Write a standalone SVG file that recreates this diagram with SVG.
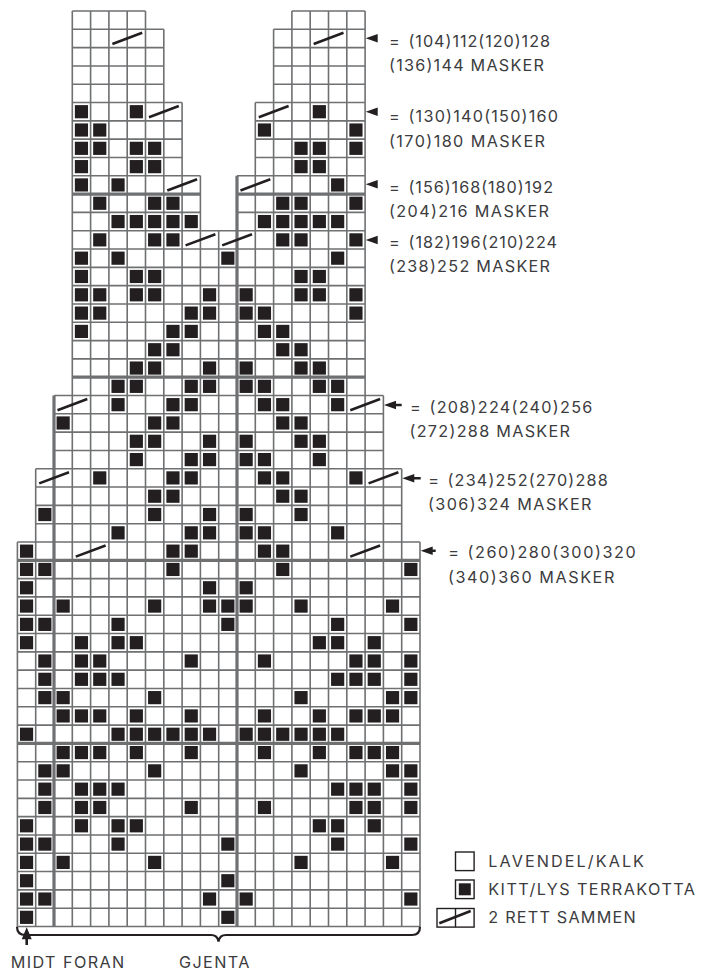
<svg xmlns="http://www.w3.org/2000/svg" width="702" height="972" viewBox="0 0 702 972">
<style>
text{font-family:"Inter","Liberation Sans",sans-serif;font-size:16.2px;fill:#3c3c3e}
.g{fill:none;stroke:#6f7072;stroke-width:1.6px;vector-effect:non-scaling-stroke}
.t{fill:none;stroke:#6f7072;stroke-width:3.2px;vector-effect:non-scaling-stroke}
.d{fill:none;stroke:#231f20;stroke-width:2.6px;vector-effect:non-scaling-stroke}
.k{fill:#231f20}
.a{fill:#231f20}
.l{fill:#fff;stroke:#231f20;stroke-width:1.4px}
</style>
<defs><rect id="s" class="k" x=".14" y=".14" width=".72" height=".72"/></defs>
<rect width="702" height="972" fill="#fff"/>
<g id="chart" transform="translate(17.4 11) scale(18.3 18.31)">
<path id="grid" class="g" d="M3 0H7M15 0H19M3 1H8M14 1H19M3 2H8M14 2H19M3 3H8M14 3H19M3 4H8M14 4H19M3 5H9M13 5H19M3 6H9M13 6H19M3 7H9M13 7H19M3 8H9M13 8H19M3 9H10M12 9H19M3 11H10M12 11H19M3 12H19M3 13H19M3 14H19M3 15H19M3 16H19M3 17H19M3 18H19M3 19H19M2 21H20M2 22H20M2 23H20M2 24H20M1 25H21M1 26H21M1 27H21M1 28H21M0 29H22M0 31H22M0 32H22M0 33H22M0 34H22M0 35H22M0 36H22M0 37H22M0 38H22M0 39H22M0 41H22M0 42H22M0 43H22M0 44H22M0 45H22M0 46H22M0 47H22M0 48H22M0 49H22M0 50H22M0 29V50M1 25V50M3 0V50M4 0V50M5 0V50M6 0V50M7 0V50M8 1V50M9 5V50M10 9V50M11 12V50M13 5V50M14 1V50M15 0V50M16 0V50M17 0V50M18 0V50M19 0V50M20 21V50M21 25V50M22 29V50"/>
<path id="heavy" class="t" d="M3 10H10M12 10H19M3 20H19M0 30H22M0 40H22M2 21V50M12 9V50"/>
<path id="decreases" class="d" d="M5.19 1.8L6.82 1.19M16.19 1.8L17.82 1.19M7.19 5.8L8.82 5.19M13.19 5.8L14.82 5.19M8.19 9.8L9.82 9.19M12.19 9.8L13.82 9.19M9.19 12.8L10.82 12.19M11.19 12.8L12.82 12.19M2.19 21.8L3.82 21.19M18.19 21.8L19.82 21.19M1.19 25.8L2.82 25.19M19.19 25.8L20.82 25.19M3.19 29.8L4.82 29.19M18.19 29.8L19.82 29.19"/>
<g id="stitches">
<use href="#s" x="3" y="5"/><use href="#s" x="6" y="5"/><use href="#s" x="16" y="5"/>
<use href="#s" x="3" y="6"/><use href="#s" x="4" y="6"/><use href="#s" x="13" y="6"/><use href="#s" x="18" y="6"/>
<use href="#s" x="3" y="7"/><use href="#s" x="4" y="7"/><use href="#s" x="6" y="7"/><use href="#s" x="7" y="7"/><use href="#s" x="15" y="7"/><use href="#s" x="16" y="7"/><use href="#s" x="18" y="7"/>
<use href="#s" x="3" y="8"/><use href="#s" x="6" y="8"/><use href="#s" x="7" y="8"/><use href="#s" x="15" y="8"/><use href="#s" x="16" y="8"/>
<use href="#s" x="3" y="9"/><use href="#s" x="5" y="9"/><use href="#s" x="17" y="9"/>
<use href="#s" x="4" y="10"/><use href="#s" x="7" y="10"/><use href="#s" x="8" y="10"/><use href="#s" x="14" y="10"/><use href="#s" x="15" y="10"/><use href="#s" x="18" y="10"/>
<use href="#s" x="5" y="11"/><use href="#s" x="6" y="11"/><use href="#s" x="7" y="11"/><use href="#s" x="8" y="11"/><use href="#s" x="9" y="11"/><use href="#s" x="13" y="11"/><use href="#s" x="14" y="11"/><use href="#s" x="15" y="11"/><use href="#s" x="16" y="11"/><use href="#s" x="17" y="11"/>
<use href="#s" x="4" y="12"/><use href="#s" x="7" y="12"/><use href="#s" x="8" y="12"/><use href="#s" x="14" y="12"/><use href="#s" x="15" y="12"/><use href="#s" x="18" y="12"/>
<use href="#s" x="3" y="13"/><use href="#s" x="5" y="13"/><use href="#s" x="11" y="13"/><use href="#s" x="17" y="13"/>
<use href="#s" x="3" y="14"/><use href="#s" x="6" y="14"/><use href="#s" x="7" y="14"/><use href="#s" x="15" y="14"/><use href="#s" x="16" y="14"/>
<use href="#s" x="3" y="15"/><use href="#s" x="4" y="15"/><use href="#s" x="6" y="15"/><use href="#s" x="7" y="15"/><use href="#s" x="10" y="15"/><use href="#s" x="12" y="15"/><use href="#s" x="15" y="15"/><use href="#s" x="16" y="15"/><use href="#s" x="18" y="15"/>
<use href="#s" x="3" y="16"/><use href="#s" x="4" y="16"/><use href="#s" x="9" y="16"/><use href="#s" x="10" y="16"/><use href="#s" x="12" y="16"/><use href="#s" x="13" y="16"/><use href="#s" x="18" y="16"/>
<use href="#s" x="3" y="17"/><use href="#s" x="8" y="17"/><use href="#s" x="9" y="17"/><use href="#s" x="13" y="17"/><use href="#s" x="14" y="17"/>
<use href="#s" x="7" y="18"/><use href="#s" x="8" y="18"/><use href="#s" x="14" y="18"/><use href="#s" x="15" y="18"/>
<use href="#s" x="6" y="19"/><use href="#s" x="7" y="19"/><use href="#s" x="10" y="19"/><use href="#s" x="12" y="19"/><use href="#s" x="15" y="19"/><use href="#s" x="16" y="19"/>
<use href="#s" x="5" y="20"/><use href="#s" x="6" y="20"/><use href="#s" x="9" y="20"/><use href="#s" x="10" y="20"/><use href="#s" x="12" y="20"/><use href="#s" x="13" y="20"/><use href="#s" x="16" y="20"/><use href="#s" x="17" y="20"/>
<use href="#s" x="5" y="21"/><use href="#s" x="8" y="21"/><use href="#s" x="9" y="21"/><use href="#s" x="13" y="21"/><use href="#s" x="14" y="21"/><use href="#s" x="17" y="21"/>
<use href="#s" x="2" y="22"/><use href="#s" x="7" y="22"/><use href="#s" x="8" y="22"/><use href="#s" x="14" y="22"/><use href="#s" x="15" y="22"/>
<use href="#s" x="6" y="23"/><use href="#s" x="7" y="23"/><use href="#s" x="10" y="23"/><use href="#s" x="12" y="23"/><use href="#s" x="15" y="23"/><use href="#s" x="16" y="23"/>
<use href="#s" x="6" y="24"/><use href="#s" x="9" y="24"/><use href="#s" x="10" y="24"/><use href="#s" x="12" y="24"/><use href="#s" x="13" y="24"/><use href="#s" x="16" y="24"/>
<use href="#s" x="4" y="25"/><use href="#s" x="8" y="25"/><use href="#s" x="9" y="25"/><use href="#s" x="13" y="25"/><use href="#s" x="14" y="25"/><use href="#s" x="18" y="25"/>
<use href="#s" x="7" y="26"/><use href="#s" x="8" y="26"/><use href="#s" x="14" y="26"/><use href="#s" x="15" y="26"/>
<use href="#s" x="1" y="27"/><use href="#s" x="7" y="27"/><use href="#s" x="10" y="27"/><use href="#s" x="12" y="27"/><use href="#s" x="15" y="27"/>
<use href="#s" x="5" y="28"/><use href="#s" x="9" y="28"/><use href="#s" x="10" y="28"/><use href="#s" x="12" y="28"/><use href="#s" x="13" y="28"/><use href="#s" x="17" y="28"/>
<use href="#s" x="0" y="29"/><use href="#s" x="8" y="29"/><use href="#s" x="9" y="29"/><use href="#s" x="13" y="29"/><use href="#s" x="14" y="29"/>
<use href="#s" x="0" y="30"/><use href="#s" x="1" y="30"/><use href="#s" x="8" y="30"/><use href="#s" x="14" y="30"/><use href="#s" x="21" y="30"/>
<use href="#s" x="0" y="31"/><use href="#s" x="10" y="31"/><use href="#s" x="12" y="31"/>
<use href="#s" x="0" y="32"/><use href="#s" x="2" y="32"/><use href="#s" x="7" y="32"/><use href="#s" x="10" y="32"/><use href="#s" x="11" y="32"/><use href="#s" x="12" y="32"/><use href="#s" x="15" y="32"/><use href="#s" x="20" y="32"/>
<use href="#s" x="0" y="33"/><use href="#s" x="1" y="33"/><use href="#s" x="5" y="33"/><use href="#s" x="11" y="33"/><use href="#s" x="17" y="33"/><use href="#s" x="21" y="33"/>
<use href="#s" x="0" y="34"/><use href="#s" x="3" y="34"/><use href="#s" x="5" y="34"/><use href="#s" x="6" y="34"/><use href="#s" x="16" y="34"/><use href="#s" x="17" y="34"/><use href="#s" x="19" y="34"/>
<use href="#s" x="1" y="35"/><use href="#s" x="3" y="35"/><use href="#s" x="4" y="35"/><use href="#s" x="9" y="35"/><use href="#s" x="13" y="35"/><use href="#s" x="18" y="35"/><use href="#s" x="19" y="35"/><use href="#s" x="21" y="35"/>
<use href="#s" x="1" y="36"/><use href="#s" x="3" y="36"/><use href="#s" x="4" y="36"/><use href="#s" x="5" y="36"/><use href="#s" x="17" y="36"/><use href="#s" x="18" y="36"/><use href="#s" x="19" y="36"/><use href="#s" x="21" y="36"/>
<use href="#s" x="1" y="37"/><use href="#s" x="2" y="37"/><use href="#s" x="7" y="37"/><use href="#s" x="15" y="37"/><use href="#s" x="20" y="37"/><use href="#s" x="21" y="37"/>
<use href="#s" x="2" y="38"/><use href="#s" x="3" y="38"/><use href="#s" x="4" y="38"/><use href="#s" x="6" y="38"/><use href="#s" x="9" y="38"/><use href="#s" x="13" y="38"/><use href="#s" x="16" y="38"/><use href="#s" x="18" y="38"/><use href="#s" x="19" y="38"/><use href="#s" x="20" y="38"/>
<use href="#s" x="0" y="39"/><use href="#s" x="5" y="39"/><use href="#s" x="6" y="39"/><use href="#s" x="7" y="39"/><use href="#s" x="8" y="39"/><use href="#s" x="9" y="39"/><use href="#s" x="10" y="39"/><use href="#s" x="12" y="39"/><use href="#s" x="13" y="39"/><use href="#s" x="14" y="39"/><use href="#s" x="15" y="39"/><use href="#s" x="16" y="39"/><use href="#s" x="17" y="39"/>
<use href="#s" x="2" y="40"/><use href="#s" x="3" y="40"/><use href="#s" x="4" y="40"/><use href="#s" x="6" y="40"/><use href="#s" x="9" y="40"/><use href="#s" x="13" y="40"/><use href="#s" x="16" y="40"/><use href="#s" x="18" y="40"/><use href="#s" x="19" y="40"/><use href="#s" x="20" y="40"/>
<use href="#s" x="1" y="41"/><use href="#s" x="2" y="41"/><use href="#s" x="7" y="41"/><use href="#s" x="15" y="41"/><use href="#s" x="20" y="41"/><use href="#s" x="21" y="41"/>
<use href="#s" x="1" y="42"/><use href="#s" x="3" y="42"/><use href="#s" x="4" y="42"/><use href="#s" x="5" y="42"/><use href="#s" x="17" y="42"/><use href="#s" x="18" y="42"/><use href="#s" x="19" y="42"/><use href="#s" x="21" y="42"/>
<use href="#s" x="1" y="43"/><use href="#s" x="3" y="43"/><use href="#s" x="4" y="43"/><use href="#s" x="9" y="43"/><use href="#s" x="13" y="43"/><use href="#s" x="18" y="43"/><use href="#s" x="19" y="43"/><use href="#s" x="21" y="43"/>
<use href="#s" x="0" y="44"/><use href="#s" x="3" y="44"/><use href="#s" x="5" y="44"/><use href="#s" x="6" y="44"/><use href="#s" x="16" y="44"/><use href="#s" x="17" y="44"/><use href="#s" x="19" y="44"/>
<use href="#s" x="0" y="45"/><use href="#s" x="1" y="45"/><use href="#s" x="5" y="45"/><use href="#s" x="11" y="45"/><use href="#s" x="17" y="45"/><use href="#s" x="21" y="45"/>
<use href="#s" x="0" y="46"/><use href="#s" x="2" y="46"/><use href="#s" x="7" y="46"/><use href="#s" x="15" y="46"/><use href="#s" x="20" y="46"/>
<use href="#s" x="0" y="47"/><use href="#s" x="11" y="47"/>
<use href="#s" x="0" y="48"/><use href="#s" x="1" y="48"/><use href="#s" x="10" y="48"/><use href="#s" x="12" y="48"/><use href="#s" x="21" y="48"/>
<use href="#s" x="0" y="49"/><use href="#s" x="11" y="49"/>
</g>
</g>
<g id="connectors">
<path class="a" d="M365.7 38.3L377.7 34V42.6ZM365.7 111.7L377.7 107.4V116ZM365.7 184.3L377.7 180V188.6ZM365.7 240L377.7 235.7V244.3Z"/>
<path class="a" d="M384 405L396 400.7V403.8H401.7V406.2H396V409.3ZM402.3 478.3L414.3 474V477.1H420.7V479.5H414.3V482.6ZM420.7 550.7L432.7 546.4V549.5H435.7V551.9H432.7V555Z"/>
<path id="brace" fill="none" stroke="#231f20" stroke-width="2.2" d="M17 926.8Q17 935 25.5 935H211Q217.5 935 218.5 941.5Q219.5 935 226 935H412Q420 935 420 926.8"/>
<path class="a" d="M26.7 927.3L31.7 939.3H28V945H25.4V939.3H21.7Z"/>
</g>
<g id="labels">
<text><tspan x="389" y="47">=</tspan> <tspan x="408.5" y="47" textLength="141.5">(104)112(120)128</tspan></text>
<text x="389" y="70.7" textLength="155">(136)144 MASKER</text>
<text><tspan x="389" y="121.7">=</tspan> <tspan x="408.5" y="121.7" textLength="149.5">(130)140(150)160</tspan></text>
<text x="389" y="146.7" textLength="156">(170)180 MASKER</text>
<text><tspan x="389" y="193.3">=</tspan> <tspan x="408.5" y="193.3" textLength="144.5">(156)168(180)192</tspan></text>
<text x="389" y="216.7" textLength="160">(204)216 MASKER</text>
<text><tspan x="389" y="247.7">=</tspan> <tspan x="408.5" y="247.7" textLength="148.5">(182)196(210)224</tspan></text>
<text x="389" y="271.7" textLength="161">(238)252 MASKER</text>
<text><tspan x="410" y="413.3">=</tspan> <tspan x="429.5" y="413.3" textLength="162.8">(208)224(240)256</tspan></text>
<text x="409.5" y="436.7" textLength="160.5">(272)288 MASKER</text>
<text><tspan x="428.3" y="485.7">=</tspan> <tspan x="447.5" y="485.7" textLength="160.2">(234)252(270)288</tspan></text>
<text x="428" y="510" textLength="163.5">(306)324 MASKER</text>
<text><tspan x="448.3" y="558.3">=</tspan> <tspan x="467.5" y="558.3" textLength="168.2">(260)280(300)320</tspan></text>
<text x="448" y="583.3" textLength="166.3">(340)360 MASKER</text>
<text x="10.7" y="968" textLength="113.6">MIDT FORAN</text>
<text x="179" y="968" textLength="70.3">GJENTA</text>
</g>
<g id="legend">
<rect class="l" x="455.5" y="852" width="18.6" height="18.6"/>
<rect class="l" x="455.5" y="880" width="18.6" height="18.6"/>
<rect class="k" x="458.8" y="883.3" width="12" height="12"/>
<rect class="l" x="437" y="908.5" width="37.1" height="18.6"/>
<path fill="none" stroke="#231f20" stroke-width="1.4" d="M455.5 908.5V927.1"/>
<path fill="none" stroke="#231f20" stroke-width="2.6" d="M439.3 923.3L470.7 911"/>
<text x="488.3" y="866.7" textLength="155.7">LAVENDEL/KALK</text>
<text x="488.3" y="895" textLength="206.7">KITT/LYS TERRAKOTTA</text>
<text x="488.3" y="922.7" textLength="147.4">2 RETT SAMMEN</text>
</g>
</svg>
